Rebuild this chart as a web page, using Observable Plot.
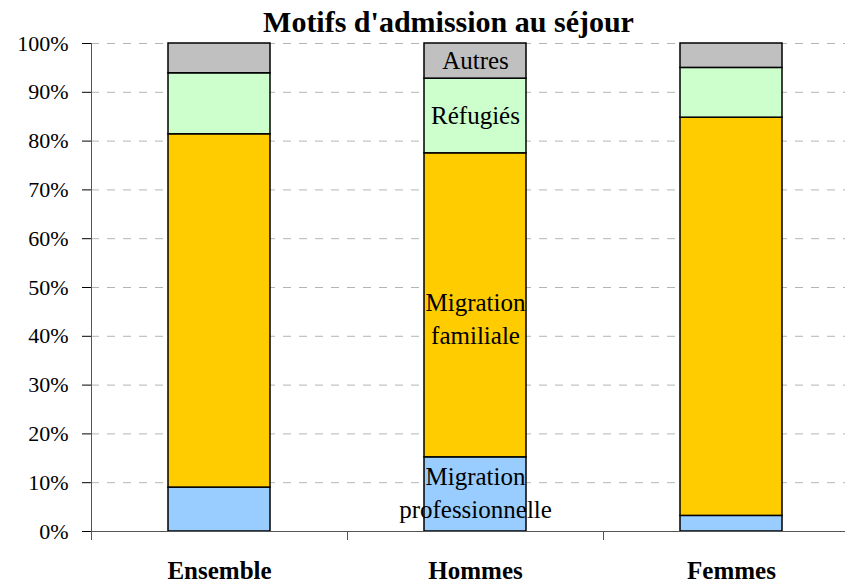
<!DOCTYPE html>
<html><head><meta charset="utf-8">
<script src="https://cdn.jsdelivr.net/npm/d3@7"></script>
<script src="https://cdn.jsdelivr.net/npm/@observablehq/plot@0.6"></script>
<style>
html,body{margin:0;padding:0;background:#fff;overflow:hidden;}
#chart{width:845px;height:584px;overflow:hidden;}
</style></head><body><div id="chart"></div>
<script>
const title = "Motifs d'admission au séjour";
const categories = ["Ensemble", "Hommes", "Femmes"];
const motifs = ["Migration professionnelle", "Migration familiale", "Réfugiés", "Autres"];
const segmentLabels = ["Migration\nprofessionnelle", "Migration\nfamiliale", "Réfugiés", "Autres"];
const profValues = [9.0, 15.2, 3.2];
const famValues = [72.4, 62.3, 81.6];
const refValues = [12.5, 15.3, 10.2];
const autresValues = [6.1, 7.2, 5.0];
const yTicks = [0, 10, 20, 30, 40, 50, 60, 70, 80, 90, 100];
const labelledCategory = "Hommes";

const series = [profValues, famValues, refValues, autresValues];
const data = motifs.flatMap((m, i) => categories.map((c, j) => ({
  categorie: c, motif: m, label: segmentLabels[i], value: series[i][j]
})));

const font = "Liberation Serif";

const chart = Plot.plot({
  width: 845,
  height: 584,
  marginTop: 43,
  marginBottom: 53,
  marginLeft: 91,
  marginRight: 0,
  style: {fontFamily: "'Liberation Serif', serif", fontSize: "22px", color: "black", background: "white"},
  x: {domain: categories, range: [91, 859], paddingInner: 0.6, paddingOuter: 0.3},
  y: {domain: [0, 100]},
  color: {domain: motifs, range: ["#99CCFF", "#FFCC00", "#CCFFCC", "#C0C0C0"]},
  marks: [
    Plot.gridY(yTicks, {stroke: "#b4b4b4", strokeOpacity: 1, strokeDasharray: "8,8"}),
    Plot.barY(data, {x: "categorie", y: "value", fill: "motif", stroke: "black", strokeWidth: 1.5}),
    Plot.text(data, Plot.stackY({
      x: "categorie", y: "value", z: "motif",
      text: d => (d.categorie === labelledCategory && d.motif !== "Migration familiale") ? d.label : null,
      fontSize: 25, fontFamily: font, lineHeight: 1.32, fill: "black", dy: -3
    })),
    Plot.text(data, Plot.stackY({
      x: "categorie", y: "value", z: "motif",
      text: d => (d.categorie === labelledCategory && d.motif === "Migration familiale") ? d.label : null,
      fontSize: 25, fontFamily: font, lineHeight: 1.32, fill: "black", dy: 12
    })),
    Plot.frame({anchor: "left", stroke: "#555"}),
    Plot.frame({anchor: "bottom", stroke: "#555"}),
    Plot.axisY(yTicks, {tickSize: 9, tickPadding: 14, tickFormat: d => d + "%", fontSize: 22, fontFamily: font, label: null}),
    Plot.axisX({tickSize: 9, tickFormat: () => "", dx: -128, label: null, stroke: "#555"}),
    Plot.axisX({tickSize: 0, tickPadding: 30, fontSize: 25, fontWeight: "bold", fontFamily: font, label: null}),
    Plot.text([title], {text: d => d, frameAnchor: "top", dy: -21, dx: -20, fontSize: 30, fontWeight: "bold", fontFamily: font, lineAnchor: "middle", fill: "black"})
  ]
});
document.getElementById("chart").appendChild(chart);
</script>
</body></html>
